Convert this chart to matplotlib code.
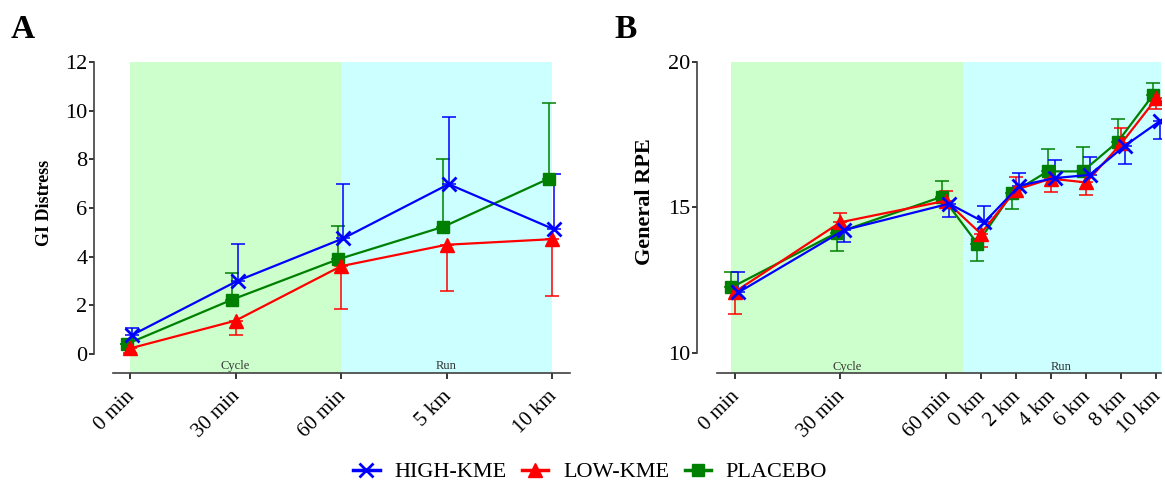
import matplotlib
matplotlib.use("Agg")
import matplotlib.pyplot as plt
from matplotlib.lines import Line2D
from matplotlib.transforms import ScaledTranslation
import numpy as np

plt.rcParams['font.family'] = ['Liberation Serif', 'DejaVu Serif']

# ---------------- Data ----------------
a_labels = ["0 min", "30 min", "60 min", "5 km", "10 km"]
a_x = [0, 1, 2, 3, 4]
a_high = [0.78, 3.01, 4.75, 6.98, 5.12]
a_high_up = [0.27, 1.53, 2.25, 2.76, 2.26]
a_low = [0.23, 1.37, 3.61, 4.49, 4.72]
a_low_dn = [0.18, 0.59, 1.74, 1.90, 2.34]
a_plac = [0.41, 2.24, 3.89, 5.23, 7.21]
a_plac_up = [0.0, 1.07, 1.38, 2.80, 3.12]

b_labels = ["0 min", "30 min", "60 min", "0 km", "2 km", "4 km", "6 km", "8 km", "10 km"]
b_x = [0, 30, 60, 70, 80, 90, 100, 110, 120]
b_high = [12.08, 14.22, 15.13, 14.49, 15.75, 16.01, 16.12, 17.12, 17.97]
b_high_up = [0.71, 0, 0, 0.56, 0.45, 0.61, 0.61, 0, 0]
b_high_dn = [0, 0.42, 0.45, 0, 0, 0, 0, 0.63, 0.62]
b_low = [12.10, 14.49, 15.23, 14.10, 15.61, 15.99, 15.86, 17.20, 18.75]
b_low_up = [0, 0.32, 0.32, 0, 0.43, 0, 0, 0.54, 0]
b_low_dn = [0.77, 0, 0, 0.45, 0, 0.46, 0.42, 0, 0.37]
b_plac = [12.25, 14.13, 15.37, 13.76, 15.50, 16.24, 16.24, 17.26, 18.86]
b_plac_up = [0.54, 0, 0.53, 0, 0, 0.76, 0.83, 0.77, 0.43]
b_plac_dn = [0, 0.64, 0, 0.61, 0.55, 0, 0, 0, 0]

series_names = ["HIGH-KME", "LOW-KME", "PLACEBO"]
colors = {"HIGH-KME": "#0000ff", "LOW-KME": "#ff0000", "PLACEBO": "#008000"}
markers = {"HIGH-KME": "x", "LOW-KME": "^", "PLACEBO": "s"}
msize = {"HIGH-KME": 10, "LOW-KME": 9.5, "PLACEBO": 8}

green_bg = "#ccffcc"
cyan_bg = "#ccffff"
spine_col = "#404040"

fig = plt.figure(figsize=(11.65, 4.83), dpi=100)
W, H = 1165, 483

def px_axes(l, r, top, bot):
    return fig.add_axes([l / W, 1 - bot / H, (r - l) / W, (bot - top) / H])

def style(ax, ybounds, yticks, outward):
    for s in ["top", "right"]:
        ax.spines[s].set_visible(False)
    ax.spines["left"].set_position(("outward", outward))
    ax.spines["left"].set_bounds(*ybounds)
    for s in ["left", "bottom"]:
        ax.spines[s].set_color(spine_col)
        ax.spines[s].set_linewidth(1.2)
    ax.set_yticks(yticks)
    ax.tick_params(axis="y", direction="out", length=3.3, width=1.1,
                   color="black", labelsize=16, pad=1.5)
    ax.tick_params(axis="x", direction="out", length=4.5, width=1.1,
                   color="black", labelsize=15, pad=4)

def draw(ax, xs, ys, lo, up, name, dx):
    c = colors[name]
    x = np.array(xs, float) + dx
    ax.errorbar(x, ys, yerr=[lo, up], fmt="none", ecolor=c, elinewidth=1.1,
                capsize=5, capthick=1.1, zorder=3)
    ax.plot(x, ys, color=c, lw=1.6, marker=markers[name], ms=msize[name],
            mew=2 if name == "HIGH-KME" else 1, mec=c, mfc=c, zorder=4)

def xlabels(ax, labels):
    ax.set_xticklabels(labels, rotation=45, ha="right", va="center",
                       rotation_mode="anchor")
    offset = ScaledTranslation(2 / 100, -9 / 100, fig.dpi_scale_trans)
    for lab in ax.get_xticklabels():
        lab.set_transform(lab.get_transform() + offset)

# ---------------- Panel A ----------------
axA = px_axes(112.7, 570, 62, 373)
axA.set_xlim(-0.164, 4.17)
axA.set_ylim(-0.78, 12)
axA.axvspan(0, 2, color=green_bg, zorder=0, lw=0)
axA.axvspan(2, 4, color=cyan_bg, zorder=0, lw=0)
z = [0] * 5
draw(axA, a_x, a_plac, z, a_plac_up, "PLACEBO", -0.03)
draw(axA, a_x, a_low, a_low_dn, z, "LOW-KME", 0.0)
draw(axA, a_x, a_high, z, a_high_up, "HIGH-KME", 0.02)
style(axA, (0, 12), [0, 2, 4, 6, 8, 10, 12], 13.3)
axA.set_xticks(a_x)
xlabels(axA, a_labels)
axA.set_ylabel("GI Distress", fontsize=13, fontweight="bold")
axA.yaxis.set_label_coords(-0.130, 0.547)
axA.text(1, -0.5, "Cycle", ha="center", va="center", fontsize=9, color="#333333")
axA.text(3, -0.5, "Run", ha="center", va="center", fontsize=9, color="#333333")

# ---------------- Panel B ----------------
axB = px_axes(717, 1161, 62, 373)
axB.set_xlim(-5.1, 121.3)
axB.set_ylim(9.31, 20)
axB.axvspan(-1, 65, color=green_bg, zorder=0, lw=0)
axB.axvspan(65, 121.3, color=cyan_bg, zorder=0, lw=0)
draw(axB, b_x, b_plac, b_plac_dn, b_plac_up, "PLACEBO", -1.0)
draw(axB, b_x, b_low, b_low_dn, b_low_up, "LOW-KME", 0.0)
draw(axB, b_x, b_high, b_high_dn, b_high_up, "HIGH-KME", 1.0)
style(axB, (10, 20), [10, 15, 20], 14.4)
axB.set_xticks(b_x)
xlabels(axB, b_labels)
axB.set_ylabel("General RPE", fontsize=16, fontweight="bold")
axB.yaxis.set_label_coords(-0.140, 0.55)
axB.text(32, 9.53, "Cycle", ha="center", va="center", fontsize=9, color="#333333")
axB.text(93, 9.53, "Run", ha="center", va="center", fontsize=9, color="#333333")

# ---------------- Panel letters ----------------
fig.text(11 / W, 1 - 29 / H, "A", fontsize=24, fontweight="bold", va="center", ha="left")
fig.text(614 / W, 1 - 29 / H, "B", fontsize=24, fontweight="bold", va="center", ha="left")

# ---------------- Legend ----------------
handles = [Line2D([], [], color=colors[n], marker=markers[n], ms=msize[n],
                  mew=2 if n == "HIGH-KME" else 1, lw=2.5) for n in series_names]
fig.legend(handles, series_names, loc="center", bbox_to_anchor=(590 / W, 1 - 472 / H),
           ncol=3, frameon=False, fontsize=16, handlelength=1.2, handletextpad=0.65,
           columnspacing=0.7)

fig.savefig("out.png", dpi=100)
